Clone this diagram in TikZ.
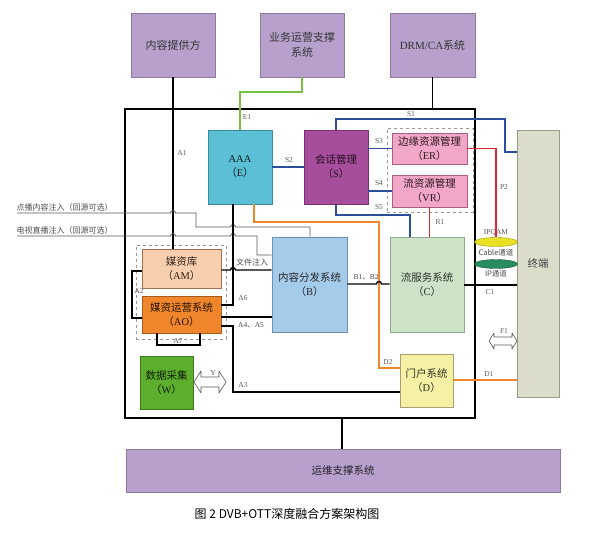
\documentclass[tikz,border=0pt]{standalone}
\usepackage{fontspec}
\setmainfont{Liberation Serif}
\newfontfamily\cjk{Noto Sans CJK SC}
\usetikzlibrary{shapes.geometric,shapes.arrows}
\definecolor{lav}{HTML}{B7A1CC}
\definecolor{lavd}{HTML}{8E7AA0}
\definecolor{aaac}{HTML}{5BBFD6}
\definecolor{aaad}{HTML}{3C8CA0}
\definecolor{sesc}{HTML}{A64D9B}
\definecolor{sesd}{HTML}{7A3070}
\definecolor{pinkc}{HTML}{F2A6C8}
\definecolor{pinkd}{HTML}{A86080}
\definecolor{bc}{HTML}{A5CBEA}
\definecolor{bd}{HTML}{7090B0}
\definecolor{cc}{HTML}{CDE3C7}
\definecolor{cd}{HTML}{90A890}
\definecolor{dc}{HTML}{F4F0A4}
\definecolor{dd}{HTML}{A8A070}
\definecolor{amc}{HTML}{F8CFAE}
\definecolor{amd}{HTML}{A07050}
\definecolor{aoc}{HTML}{F0862C}
\definecolor{aod}{HTML}{A85A18}
\definecolor{wc}{HTML}{5DAE2C}
\definecolor{wd}{HTML}{3A7A18}
\definecolor{termc}{HTML}{DCDCCA}
\definecolor{termd}{HTML}{9A9A88}
\definecolor{lnblue}{HTML}{2A4E9C}
\definecolor{lnred}{HTML}{E3262E}
\definecolor{lnor}{HTML}{F0862C}
\definecolor{lngr}{HTML}{76C043}
\definecolor{lngy}{HTML}{5A5A5A}
\definecolor{ipy}{HTML}{E8E020}
\definecolor{ipg}{HTML}{2A8A60}
\newcommand{\pbr}[1]{{\cjk （}{\rmfamily #1}{\cjk ）}}
\tikzset{
  box/.style={rectangle, line width=0.8pt, inner sep=0pt, align=center,
    font=\cjk\fontsize{10.5}{14}\selectfont, text=black!80},
  topbox/.style={box, fill=lav, draw=lavd, font=\cjk\fontsize{11}{15}\selectfont},
  grp/.style={rectangle, draw=gray!80, dashed, line width=0.8pt, inner sep=0pt},
  lab/.style={font=\rmfamily\fontsize{7.5}{8}\selectfont, text=black!65, inner sep=0.5pt},
  clab/.style={font=\cjk\fontsize{8}{9}\selectfont, text=black!70, inner sep=0.5pt},
  bk/.style={draw=black, line width=1.4pt},
  bl/.style={draw=lnblue, line width=1.2pt},
  rd/.style={draw=lnred, line width=1.2pt},
  orl/.style={draw=lnor, line width=1.2pt},
  grl/.style={draw=lngr, line width=1.2pt},
  gyl/.style={draw=lngy, line width=0.8pt},
  darrow/.style={draw=gray!70!black, fill=white, line width=0.6pt, line join=round}
}
\begin{document}
\begin{tikzpicture}[x=1pt,y=-1pt]
\useasboundingbox (0,0) rectangle (599,539);
\fill[white] (0,0) rectangle (599,539);

% top systems
\node[topbox, minimum width=84pt, minimum height=64pt] (cp) at (173,45) {内容提供方};
\node[topbox, minimum width=84pt, minimum height=64pt] (bss) at (302,45) {业务运营支撑\\系统};
\node[topbox, minimum width=85pt, minimum height=64pt] (drm) at (432.5,45) {{\rmfamily DRM/CA}系统};

% main frame
\node[draw=black, line width=2.2pt, minimum width=350pt, minimum height=309pt, inner sep=0pt] (frame) at (300,263.5) {};

% operations support
\node[topbox, minimum width=434pt, minimum height=43pt, font=\cjk\fontsize{10.5}{14}\selectfont, text=black!75!lavd] (oss) at (343,470.5) {运维支撑系统};
\node[font=\cjk\fontsize{12}{13}\selectfont, inner sep=0pt] (cap) at (287,514) {图 2 DVB+OTT深度融合方案架构图};

% components
\node[box, fill=aaac, draw=aaad, minimum width=64pt, minimum height=74pt, text=black!80!aaad] (aaa) at (240,167) {{\rmfamily AAA}\\\pbr{E}};
\node[box, fill=sesc, draw=sesd, minimum width=64pt, minimum height=74pt, text=black!70!sesd] (ses) at (336,167) {会话管理\\\pbr{S}};
\node[grp, minimum width=86pt, minimum height=84pt] (grpr) at (430,170) {};
\node[box, fill=pinkc, draw=pinkd, minimum width=75pt, minimum height=31pt, text=black!75!pinkd] (er) at (429.5,148.5) {边缘资源管理\\\pbr{ER}};
\node[box, fill=pinkc, draw=pinkd, minimum width=75pt, minimum height=32pt, text=black!75!pinkd] (vr) at (429.5,191) {流资源管理\\\pbr{VR}};
\node[box, fill=bc, draw=bd, minimum width=75pt, minimum height=95pt, text=black!85] (cdn) at (309.5,284.5) {内容分发系统\\\pbr{B}};
\node[box, fill=cc, draw=cd, minimum width=74pt, minimum height=95pt, text=black!70!cd] (css) at (427,284.5) {流服务系统\\\pbr{C}};
\node[box, fill=dc, draw=dd, minimum width=53pt, minimum height=53pt, text=black!70!dd] (portal) at (426.5,380.5) {门户系统\\\pbr{D}};
\node[grp, minimum width=90pt, minimum height=94pt] (grpa) at (181,292) {};
\node[box, fill=amc, draw=amd, minimum width=79pt, minimum height=39pt, text=black!70!amd] (am) at (181.5,268.5) {媒资库\\\pbr{AM}};
\node[box, fill=aoc, draw=aod, minimum width=79pt, minimum height=37pt, text=black!80!aod] (ao) at (181.5,314.5) {媒资运营系统\\\pbr{AO}};
\node[box, fill=wc, draw=wd, minimum width=53pt, minimum height=53pt, text=black!75!wd] (wdc) at (166.5,382.5) {数据采集\\\pbr{W}};
\node[box, fill=termc, draw=termd, minimum width=42pt, minimum height=267pt, text=black!75] (term) at (538,263.5) {终端};

% channels
\node[ellipse, fill=ipy, draw=ipy!70!black, line width=0.4pt, minimum width=43pt, minimum height=9pt, inner sep=0pt] (ipqam) at (496,242) {};
\node[ellipse, fill=ipg, draw=ipg!70!black, line width=0.4pt, minimum width=43pt, minimum height=9pt, inner sep=0pt] (ipch) at (496,264) {};
\node[lab] (lipqam) at (496,233) {IPQAM};
\node[clab, font=\cjk\fontsize{7.5}{8}\selectfont] (lcable) at (496,252.5) {Cable通道};
\node[clab, font=\cjk\fontsize{7.5}{8}\selectfont] (lip) at (496,274) {IP通道};

% double arrows (Y and F1)
\draw[darrow] (194,382) -- (201,371) -- (201,377) -- (219,377) -- (219,371) -- (226,382)
  -- (219,393) -- (219,387) -- (201,387) -- (201,393) -- cycle;
\draw[darrow] (489,341) -- (494,333) -- (494,337) -- (512,337) -- (512,333) -- (517,341)
  -- (512,349) -- (512,345) -- (494,345) -- (494,349) -- cycle;
\node[lab] (ly) at (213,373) {Y};
\node[lab] (lf1) at (504,331) {F1};

% external links
\draw[bk] (cp.south) -- (cp.south |- am.north);
\draw[bk] (drm.south) -- (drm.south |- frame.north);
\draw[bk] (frame.south -| 342,0) -- (oss.north -| 342,0);
\draw[grl] (bss.south) -- (302,92) -- (240,92) -- (aaa.north);
\node[lab] (le1) at (247,117) {E1};
\node[lab] (la1) at (182,153) {A1};

% injection lines
\node[clab, anchor=south west] (inj1) at (16,211.5) {点播内容注入（回源可选）};
\node[clab, anchor=south west] (inj2) at (16,234.5) {电视直播注入（回源可选）};
\draw[gyl] (17,213) -- (170.5,213) arc[start angle=180, end angle=360, radius=2.5] -- (196,213) -- (196,227)
  -- (230.5,227) arc[start angle=180, end angle=360, radius=2.5] -- (310,227) -- (cdn.north -| 310,0);
\draw[gyl] (17,236) -- (170.5,236) arc[start angle=180, end angle=360, radius=2.5]
  -- (230.5,236) arc[start angle=180, end angle=360, radius=2.5] -- (257,236) -- (257,255) -- (cdn.west |- 0,255);

% AAA / AO links
\draw[bk] (ao.east |- 0,305) -- (233,305) -- (aaa.south -| 233,0);
\node[lab] (la6) at (243,298) {A6};
\draw[bk] (am.east |- 0,270) -- (230.5,270) arc[start angle=180, end angle=360, radius=2.5] -- (cdn.west |- 0,270);
\node[clab] (lfile) at (252,262) {文件注入};
\draw[bk] (ao.east |- 0,317) -- (cdn.west |- 0,317);
\node[clab, font=\rmfamily\fontsize{7.5}{8}\selectfont] (la45) at (251,325) {A4{\cjk 、}A5};
\draw[bk] (ao.east |- 0,326) -- (233,326) -- (233,392) -- (portal.west |- 0,392);
\node[lab] (la3) at (243,385) {A3};
\draw[bk] (am.west |- 0,271) -- (132,271) -- (132,318) -- (ao.west |- 0,318);
\node[lab] (la2) at (139,291) {A2};
\draw[bk] (ao.south -| 157,0) -- (157,345) -- (200,345) -- (ao.south -| 200,0);
\node[lab] (la7) at (178,341) {A7};

% session links
\draw[bl] (aaa.east) -- (ses.west);
\node[lab] (ls2) at (289,160) {S2};
\draw[bl] (ses.north) -- (336,119) -- (505,119) -- (505,152) -- (term.west |- 0,152);
\node[lab] (ls1) at (411,114) {S1};
\draw[bl] (ses.east |- er.west) -- (er.west);
\node[lab] (ls3) at (379,141) {S3};
\draw[bl] (ses.east |- vr.west) -- (vr.west);
\node[lab] (ls4) at (379,183) {S4};
\draw[bl] (ses.south) -- (336,215) -- (410,215) -- (css.north -| 410,0);
\node[lab] (ls5) at (379,207) {S5};
\draw[rd] (vr.south) -- (vr.south |- css.north);
\node[lab] (lr1) at (440,222) {R1};
\draw[rd] (er.east) -- (496,148.5) -- (ipqam.north);
\node[lab] (lp2) at (504,187) {P2};

% delivery
\draw[orl] (aaa.south -| 254,0) -- (254,222) -- (379,222) -- (379,368) -- (portal.west |- 0,368);
\node[lab] (ld2) at (388,362) {D2};
\draw[bk] (cdn.east |- 0,284) -- (376.5,284) arc[start angle=180, end angle=360, radius=2.5] -- (css.west |- 0,284);
\node[clab, font=\rmfamily\fontsize{7.5}{8}\selectfont] (lb12) at (366,277) {B1{\cjk 、}B2};
\draw[bk] (css.east |- 0,285) -- (term.west |- 0,285);
\node[lab] (lc1) at (490,292) {C1};
\draw[orl] (portal.east |- 0,380) -- (term.west |- 0,380);
\node[lab] (ld1) at (489,374) {D1};
\end{tikzpicture}
\end{document}
